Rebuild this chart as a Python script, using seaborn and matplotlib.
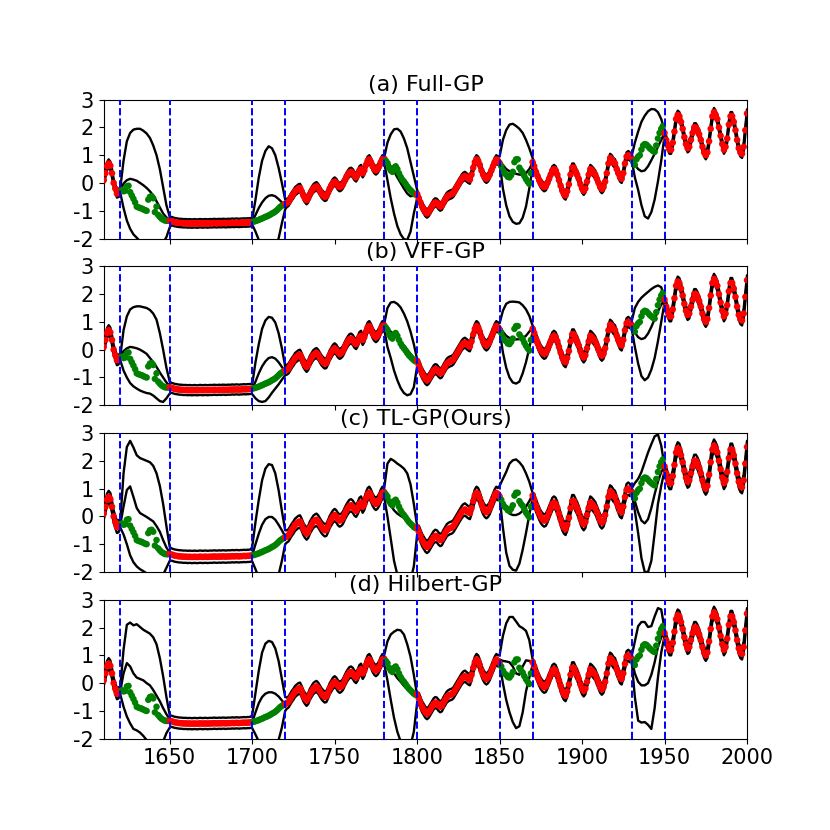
import numpy as np
import pandas as pd
import matplotlib
matplotlib.use("Agg")
import matplotlib.pyplot as plt
import seaborn as sns

# --- observed series, one value per year 1610..2000 ---
years = np.arange(1610, 2001)
irradiance = [
    # 1610-1620
    0.1, 0.35, 0.6, 0.7, 0.62, 0.35, 0.0, -0.2, -0.38, -0.35, -0.28,
    # 1621-1649 (held out)
    -0.25, -0.3, -0.28, -0.12, -0.1, -0.33, -0.45, -0.57, -0.7, -0.85,
    -0.88, -0.9, -0.92, -0.95, -0.98, -1.0, -0.6, -0.5, -0.48, -0.55,
    -1.05, -0.85, -1.15, -1.22, -1.28, -1.32, -1.35, -1.36, -1.36,
    # 1650-1700
    -1.35, -1.37, -1.39, -1.41, -1.42, -1.43, -1.44, -1.44, -1.45, -1.45,
    -1.45, -1.46, -1.45, -1.46, -1.46, -1.45, -1.46, -1.46, -1.45, -1.45,
    -1.46, -1.45, -1.45, -1.46, -1.45, -1.45, -1.45, -1.44, -1.45, -1.45,
    -1.44, -1.45, -1.44, -1.44, -1.45, -1.44, -1.44, -1.44, -1.43, -1.44,
    -1.43, -1.43, -1.44, -1.43, -1.43, -1.42, -1.43, -1.42, -1.42, -1.41,
    -1.4,
    # 1701-1719 (held out)
    -1.39, -1.37, -1.35, -1.33, -1.30, -1.28, -1.25, -1.22, -1.20, -1.17,
    -1.14, -1.10, -1.07, -1.03, -0.98, -0.92, -0.86, -0.82, -0.78,
    # 1720-1780
    -0.75, -0.72, -0.68, -0.58, -0.48, -0.4, -0.3, -0.25, -0.2, -0.18,
    -0.3, -0.45, -0.55, -0.62, -0.55, -0.4, -0.3, -0.2, -0.15, -0.12,
    -0.18, -0.28, -0.38, -0.45, -0.5, -0.48, -0.35, -0.2, -0.1, 0.0,
    0.05, 0.0, -0.1, -0.15, -0.12, -0.05, 0.08, 0.2, 0.3, 0.38,
    0.4, 0.35, 0.25, 0.2, 0.3, 0.45, 0.5, 0.35, 0.45, 0.65,
    0.8, 0.85, 0.75, 0.6, 0.5, 0.45, 0.5, 0.6, 0.75, 0.85,
    0.88,
    # 1781-1799 (held out)
    0.8, 0.72, 0.55, 0.45, 0.4, 0.55, 0.6, 0.5, 0.35, 0.22,
    0.12, 0.05, -0.03, -0.12, -0.2, -0.26, -0.32, -0.38, -0.42,
    # 1800-1850
    -0.4, -0.55, -0.7, -0.85, -0.95, -1.05, -1.1, -1.05, -0.95, -0.85,
    -0.75, -0.7, -0.72, -0.8, -0.85, -0.82, -0.7, -0.6, -0.5, -0.45,
    -0.42, -0.4, -0.35, -0.25, -0.15, -0.05, 0.05, 0.15, 0.22, 0.25,
    0.2, 0.15, 0.12, 0.3, 0.55, 0.75, 0.85, 0.8, 0.65, 0.45,
    0.3, 0.2, 0.15, 0.2, 0.3, 0.45, 0.6, 0.75, 0.85, 0.8,
    0.72,
    # 1851-1869 (held out)
    0.6, 0.45, 0.35, 0.3, 0.22, 0.2, 0.28, 0.4, 0.75, 0.85,
    0.85, 0.55, 0.45, 0.38, 0.25, 0.14, 0.05, -0.03, 0.35,
    # 1870-1930
    0.75, 0.6, 0.4, 0.25, 0.1, -0.02, -0.1, -0.15, -0.12, 0.0,
    0.15, 0.3, 0.45, 0.5, 0.45, 0.3, 0.1, -0.1, -0.28, -0.4,
    -0.45, -0.3, -0.05, 0.3, 0.55, 0.55, 0.42, 0.3, 0.15, -0.05,
    -0.2, -0.28, -0.2, 0.05, 0.3, 0.5, 0.45, 0.38, 0.3, 0.15,
    0.0, -0.15, -0.22, -0.15, 0.05, 0.35, 0.7, 0.9, 0.85, 0.75,
    0.7, 0.5, 0.35, 0.2, 0.15, 0.35, 0.7, 0.95, 1.0, 0.95,
    0.9,
    # 1931-1949 (held out)
    0.75, 0.65, 0.85, 0.95, 1.0, 1.2, 1.35, 1.4, 1.38, 1.32,
    1.25, 1.2, 1.15, 1.12, 1.35, 1.6, 1.8, 1.95, 2.05,
    # 1950-2000
    1.8, 1.55, 1.35, 1.2, 1.2, 1.45, 1.85, 2.3, 2.45, 2.4,
    2.2, 1.95, 1.65, 1.4, 1.25, 1.3, 1.55, 1.8, 2.0, 2.0,
    1.9, 1.75, 1.55, 1.3, 1.1, 1.0, 1.1, 1.5, 1.95, 2.4,
    2.55, 2.45, 2.3, 2.0, 1.7, 1.4, 1.2, 1.3, 1.6, 2.1,
    2.4, 2.4, 2.2, 1.9, 1.55, 1.25, 1.1, 1.05, 1.3, 1.9,
    2.5,
]

gaps = [(1620, 1650), (1700, 1720), (1780, 1800), (1850, 1870), (1930, 1950)]

# --- predictions inside the gaps, every 2 years from gap start to gap end ---
full_mean = [
    [-0.28, -0.02, 0.1, 0.15, 0.12, 0.08, 0.0, -0.08, -0.18, -0.3, -0.45, -0.66, -0.88, -1.1, -1.24, -1.32],
    [-1.4, -1.15, -0.9, -0.7, -0.55, -0.46, -0.44, -0.48, -0.58, -0.7, -0.78],
    [0.85, 0.78, 0.6, 0.42, 0.2, 0.0, -0.2, -0.38, -0.48, -0.45, -0.42],
    [0.8, 0.65, 0.5, 0.42, 0.38, 0.33, 0.3, 0.3, 0.35, 0.5, 0.72],
    [0.9, 0.65, 0.5, 0.42, 0.45, 0.6, 0.82, 1.05, 1.3, 1.55, 1.8],
]
full_upper = [
    [-0.2, 0.8, 1.5, 1.8, 1.92, 1.95, 1.95, 1.88, 1.78, 1.62, 1.35, 1.0, 0.5, -0.15, -0.8, -1.22],
    [-1.3, -0.6, 0.2, 0.8, 1.15, 1.32, 1.25, 1.0, 0.55, 0.0, -0.6],
    [0.9, 1.45, 1.75, 1.93, 1.95, 1.85, 1.6, 1.25, 0.75, 0.25, -0.25],
    [0.95, 1.55, 1.9, 2.1, 2.13, 2.05, 1.95, 1.8, 1.55, 1.25, 0.9],
    [0.95, 1.45, 1.85, 2.2, 2.42, 2.58, 2.66, 2.65, 2.55, 2.3, 1.9],
]
full_lower = [
    [-0.35, -0.9, -1.35, -1.65, -1.85, -1.97, -2.1, -2.2, -2.25, -2.3, -2.3, -2.3, -2.25, -2.15, -1.95, -1.6],
    [-1.5, -1.75, -2.05, -2.3, -2.45, -2.5, -2.45, -2.3, -2.0, -1.45, -0.95],
    [0.75, 0.1, -0.55, -1.1, -1.55, -1.85, -2.02, -2.05, -1.75, -1.1, -0.55],
    [0.75, -0.2, -0.8, -1.2, -1.4, -1.47, -1.45, -1.25, -0.85, -0.2, 0.55],
    [0.85, 0.2, -0.25, -0.8, -1.2, -1.28, -1.05, -0.6, 0.05, 0.8, 1.7],
]

vff_mean = [
    [-0.28, -0.05, 0.05, 0.1, 0.08, 0.05, 0.0, -0.07, -0.15, -0.3, -0.45, -0.62, -0.82, -1.0, -1.18, -1.3],
    [-1.4, -1.15, -0.85, -0.6, -0.42, -0.3, -0.27, -0.32, -0.45, -0.62, -0.78],
    [0.87, 0.75, 0.65, 0.55, 0.42, 0.3, 0.15, 0.0, -0.15, -0.3, -0.42],
    [0.85, 0.65, 0.5, 0.42, 0.38, 0.37, 0.38, 0.42, 0.5, 0.65, 0.78],
    [0.88, 0.62, 0.45, 0.38, 0.42, 0.58, 0.82, 1.1, 1.38, 1.62, 1.8],
]
vff_upper = [
    [-0.25, 0.7, 1.2, 1.45, 1.53, 1.56, 1.56, 1.53, 1.5, 1.43, 1.3, 1.08, 0.6, 0.0, -0.65, -1.15],
    [-1.25, -0.45, 0.2, 0.75, 1.05, 1.18, 1.15, 0.98, 0.6, 0.05, -0.6],
    [0.92, 1.5, 1.7, 1.72, 1.65, 1.52, 1.3, 1.02, 0.65, 0.2, -0.35],
    [0.95, 1.4, 1.65, 1.72, 1.73, 1.72, 1.7, 1.6, 1.45, 1.22, 0.87],
    [1.0, 1.5, 1.72, 1.87, 1.98, 2.08, 2.18, 2.26, 2.31, 2.25, 1.85],
]
vff_lower = [
    [-0.38, -0.75, -1.0, -1.2, -1.32, -1.4, -1.47, -1.52, -1.56, -1.58, -1.65, -1.75, -1.85, -1.88, -1.75, -1.58],
    [-1.6, -1.75, -1.85, -1.88, -1.85, -1.72, -1.55, -1.4, -1.25, -1.08, -0.92],
    [0.75, 0.1, -0.3, -0.75, -1.1, -1.38, -1.56, -1.64, -1.6, -1.35, -0.6],
    [0.7, -0.1, -0.65, -1.0, -1.18, -1.22, -1.15, -0.85, -0.45, 0.05, 0.65],
    [0.78, 0.1, -0.5, -0.95, -1.1, -1.0, -0.72, -0.3, 0.3, 1.0, 1.7],
]

tl_mean = [
    [-0.3, 0.35, 0.95, 1.08, 0.7, 0.3, 0.12, 0.05, -0.02, -0.1, -0.18, -0.35, -0.55, -0.85, -1.12, -1.3],
    [-1.4, -1.0, -0.62, -0.3, -0.1, -0.02, -0.02, -0.12, -0.3, -0.5, -0.72],
    [0.87, 0.6, 0.4, 0.22, 0.1, 0.02, -0.05, -0.14, -0.24, -0.35, -0.45],
    [0.85, 0.5, 0.25, 0.1, 0.05, 0.05, 0.1, 0.2, 0.35, 0.55, 0.78],
    [0.9, 0.55, 0.15, -0.15, -0.25, -0.1, 0.3, 0.8, 1.25, 1.6, 1.78],
]
tl_upper = [
    [-0.2, 1.55, 2.5, 2.72, 2.48, 2.2, 2.1, 2.05, 2.0, 1.95, 1.82, 1.55, 1.1, 0.45, -0.35, -1.1],
    [-1.1, -0.2, 0.6, 1.3, 1.72, 1.88, 1.85, 1.55, 0.95, 0.2, -0.5],
    [1.0, 1.9, 2.07, 2.0, 1.9, 1.82, 1.72, 1.55, 1.15, 0.45, -0.35],
    [1.1, 1.35, 1.6, 1.9, 2.02, 2.05, 1.95, 1.8, 1.55, 1.25, 0.85],
    [1.0, 1.2, 1.35, 1.6, 1.95, 2.3, 2.6, 2.88, 2.95, 2.55, 1.8],
]
tl_lower = [
    [-0.4, -0.65, -1.0, -1.4, -1.65, -1.8, -1.9, -1.97, -2.05, -2.1, -2.15, -2.2, -2.2, -2.1, -1.85, -1.6],
    [-1.62, -1.9, -2.2, -2.4, -2.5, -2.5, -2.45, -2.35, -2.1, -1.6, -1.0],
    [0.7, 0.0, -0.8, -1.6, -2.1, -2.4, -2.5, -2.45, -2.3, -1.8, -0.65],
    [0.7, -0.4, -1.3, -1.78, -1.92, -1.95, -1.7, -1.2, -0.6, 0.05, 0.65],
    [0.85, 0.2, -0.6, -1.5, -2.0, -2.0, -1.6, -0.6, 0.45, 1.1, 1.65],
]

hilbert_mean = [
    [-0.3, 0.35, 0.72, 0.6, 0.35, 0.2, 0.15, 0.1, 0.0, -0.08, -0.25, -0.45, -0.65, -0.9, -1.12, -1.3],
    [-1.4, -1.05, -0.72, -0.5, -0.38, -0.33, -0.33, -0.38, -0.48, -0.62, -0.78],
    [0.85, 0.7, 0.52, 0.35, 0.18, 0.05, -0.1, -0.22, -0.32, -0.4, -0.45],
    [0.85, 0.8, 0.78, 0.75, 0.6, 0.35, 0.3, 0.6, 0.82, 0.8, 0.75],
    [0.88, 0.35, 0.05, -0.08, -0.08, 0.0, 0.3, 0.75, 1.3, 1.65, 1.8],
]
hilbert_upper = [
    [-0.15, 1.2, 2.1, 2.18, 2.08, 2.12, 2.02, 1.92, 1.85, 1.78, 1.65, 1.4, 0.9, 0.25, -0.5, -1.15],
    [-1.15, -0.35, 0.45, 1.1, 1.42, 1.52, 1.48, 1.25, 0.8, 0.15, -0.5],
    [1.0, 1.5, 1.75, 1.85, 1.92, 1.9, 1.75, 1.4, 0.95, 0.3, -0.45],
    [1.0, 1.7, 2.15, 2.38, 2.38, 2.22, 2.05, 1.98, 1.88, 1.55, 0.87],
    [0.95, 1.5, 2.05, 2.2, 2.2, 2.02, 2.05, 2.4, 2.7, 2.65, 1.95],
]
hilbert_lower = [
    [-0.4, -0.85, -1.2, -1.45, -1.65, -1.7, -1.78, -1.9, -2.05, -2.2, -2.3, -2.35, -2.3, -2.1, -1.8, -1.6],
    [-1.62, -1.85, -2.1, -2.25, -2.35, -2.38, -2.35, -2.25, -2.05, -1.6, -1.0],
    [0.7, 0.1, -0.6, -1.25, -1.75, -2.1, -2.3, -2.35, -2.25, -1.75, -0.7],
    [0.7, 0.0, -0.6, -1.05, -1.4, -1.62, -1.55, -1.05, -0.3, 0.2, 0.65],
    [0.85, -0.5, -1.35, -1.42, -1.4, -1.5, -1.65, -0.9, 0.2, 1.1, 1.7],
]

titles = ["(a) Full-GP", "(b) VFF-GP", "(c) TL-GP(Ours)", "(d) Hilbert-GP"]
# half width of the confidence band where data is observed
band_width = [0.15, 0.18, 0.22, 0.2]

sns.set_style("ticks")
plt.rcParams["font.family"] = ["DejaVu Sans"]
plt.rcParams["axes.unicode_minus"] = False
for key in ["text.color", "axes.labelcolor", "xtick.color", "ytick.color", "axes.edgecolor"]:
    plt.rcParams[key] = "black"

vals = np.array(irradiance)
held_out = np.zeros(len(years), dtype=bool)
in_gap = np.zeros(len(years), dtype=bool)
for a, b in gaps:
    held_out |= (years > a) & (years < b)
    in_gap |= (years >= a) & (years <= b)
obs = pd.DataFrame({"year": years, "value": vals,
                    "split": np.where(held_out, "test", "train")})


def build_curve(gap_vals, offset):
    xs = list(years[~in_gap])
    ys = list(vals[~in_gap] + offset)
    for (a, b), gv in zip(gaps, gap_vals):
        xs += list(np.arange(a, b + 1, 2))
        ys += list(gv)
    return pd.DataFrame({"year": xs, "value": ys}).sort_values("year")


models = [
    (full_mean, full_upper, full_lower),
    (vff_mean, vff_upper, vff_lower),
    (tl_mean, tl_upper, tl_lower),
    (hilbert_mean, hilbert_upper, hilbert_lower),
]

fig, axes = plt.subplots(4, 1, figsize=(8.3, 8.3), dpi=100, sharex=True)
for ax, title, (m, up, lo), bw in zip(axes, titles, models, band_width):
    for gv, off in [(up, bw), (lo, -bw), (m, 0.0)]:
        sns.lineplot(data=build_curve(gv, off), x="year", y="value",
                     estimator=None, sort=True, color="black",
                     linewidth=1.7, ax=ax)
    sns.scatterplot(data=obs, x="year", y="value", hue="split",
                    palette={"train": "red", "test": "green"},
                    s=22, linewidth=0, legend=False, ax=ax, zorder=3)
    for a, b in gaps:
        ax.axvline(a, color="blue", ls="--", lw=1.4, zorder=4)
        ax.axvline(b, color="blue", ls="--", lw=1.4, zorder=4)
    ax.set_xlim(1610, 2000)
    ax.set_ylim(-2, 3)
    ax.set_yticks(range(-2, 4))
    ax.set_xticks(range(1650, 2001, 50))
    ax.tick_params(labelsize=15)
    ax.set_xlabel("")
    ax.set_ylabel("")
    ax.set_title(title, fontsize=16)

fig.savefig("out.png", dpi=100)
